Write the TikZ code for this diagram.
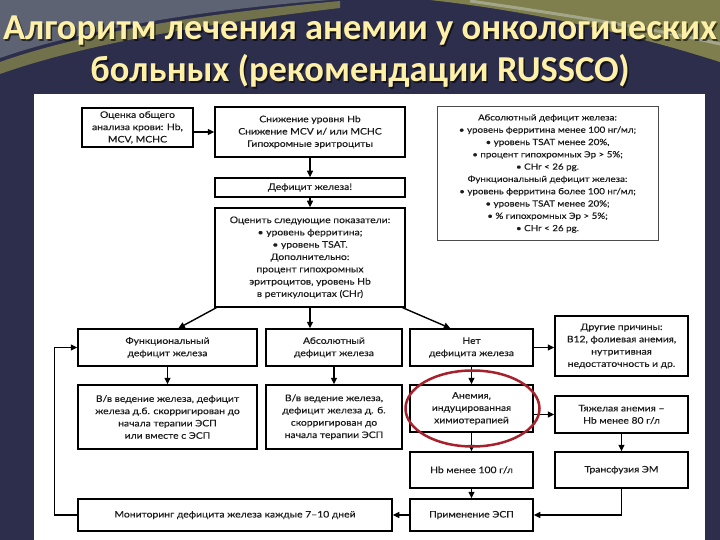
\documentclass[tikz,border=0pt]{standalone}
\usepackage{fontspec}
\setmainfont[FakeStretch=1.15,FakeBold=0.25]{Lato}
\newfontfamily\titlefont{Carlito}
\usetikzlibrary{arrows.meta,calc,shapes.geometric}
\definecolor{bgnavy}{HTML}{2D2E4C}
\definecolor{swgray}{HTML}{5D6372}
\definecolor{swolive}{HTML}{7E7F4C}
\definecolor{swlight}{HTML}{A3A68A}
\definecolor{titlecol}{HTML}{FFF0A8}
\definecolor{ringred}{HTML}{A5222C}
\definecolor{inkc}{HTML}{1C1C1C}
\newcommand\bx[7][]{\node[box,#1,minimum width={(#5-#3)*1pt},minimum height={(#6-#4)*1pt}] (#2) at ({(#3+#5)/2},{(#4+#6)/2}) {#7};}
\tikzset{
 box/.style={draw=black,line width=1.5pt,fill=white,inner sep=1pt,align=center,text=inkc,font=\fontsize{9}{12.3}\selectfont},
 infobox/.style={draw=black!70,line width=1pt,font=\fontsize{8.5}{12.3}\selectfont},
 arr/.style={draw=black,line width=1.4pt,-{Triangle[length=6.5pt,width=6pt]}},
 ttl/.style={font=\titlefont\bfseries\fontsize{36.5}{40}\selectfont,text=titlecol,inner sep=0pt},
 ttlsh/.style={font=\titlefont\bfseries\fontsize{36.5}{40}\selectfont,text=black,inner sep=0pt,opacity=.6},
}
\begin{document}
\begin{tikzpicture}[x=1pt,y=-1pt]
\useasboundingbox (0,0) rectangle (720,540);
% background
\fill[bgnavy] (0,0) rectangle (720,540);
\fill[swgray] (0,0) -- (330,0) .. controls (200,10) and (80,30) .. (0,58) -- cycle;
\fill[swolive,opacity=.85] (0,62) .. controls (90,30) and (220,12) .. (340,1) -- (340,8) .. controls (220,22) and (90,42) .. (0,74) -- cycle;
\fill[swolive] (430,0) .. controls (520,10) and (620,30) .. (720,62) -- (720,0) -- cycle;
\draw[swlight,line width=3pt] (470,1) .. controls (560,14) and (650,28) .. (720,44);
% title
\node[ttlsh] (t1s) at (361.5,32.5) {Алгоритм лечения анемии у онкологических};
\node[ttlsh] (t2s) at (361.5,72.5) {больных (рекомендации RUSSCO)};
\node[ttl] (t1) at (360,31) {Алгоритм лечения анемии у онкологических};
\node[ttl] (t2) at (360,71) {больных (рекомендации RUSSCO)};
% white panel
\fill[white] (34,94) rectangle (705,540);
% boxes
\bx{A}{82}{108}{193}{147}{Оценка общего\\анализа крови: Hb,\\MCV, MCHC}
\bx{B}{215}{107}{405}{157}{Снижение уровня Hb\\Снижение MCV и/ или MCHC\\Гипохромные эритроциты}
\bx[infobox]{info}{437}{107}{658}{240}{Абсолютный дефицит железа:\\• уровень ферритина менее 100 нг/мл;\\• уровень TSAT менее 20\%,\\• процент гипохромных Эр > 5\%;\\• CHr < 26 pg.\\Функциональный дефицит железа:\\• уровень ферритина более 100 нг/мл;\\• уровень TSAT менее 20\%;\\• \% гипохромных Эр > 5\%;\\• CHr < 26 pg.}
\bx{def}{215}{178}{405}{197}{Дефицит железа!}
\bx{eval}{215}{208}{405}{307}{Оценить следующие показатели:\\• уровень ферритина;\\• уровень TSAT.\\Дополнительно:\\процент гипохромных\\эритроцитов, уровень Hb\\в ретикулоцитах (CHr)}
\bx{func}{78}{329}{257}{366}{Функциональный\\дефицит железа}
\bx{abs}{266}{329}{402}{366}{Абсолютный\\дефицит железа}
\bx{net}{410}{329}{533}{366}{Нет\\дефицита железа}
\bx{other}{555}{316}{688}{376}{Другие причины:\\B12, фолиевая анемия,\\нутритивная\\недостаточность и др.}
\bx{ivf}{78}{385}{257}{449}{В/в ведение железа, дефицит\\железа д.б. скорригирован до\\начала терапии ЭСП\\или вместе с ЭСП}
\bx{iva}{266}{385}{402}{449}{В/в ведение железа,\\дефицит железа д. б.\\скорригирован до\\начала терапии ЭСП}
\bx{anem}{410}{385}{533}{432}{Анемия,\\индуцированная\\химиотерапией}
\bx{severe}{555}{396}{688}{433}{Тяжелая анемия –\\Hb менее 80 г/л}
\bx{hb}{410}{452}{533}{488}{Hb менее 100 г/л}
\bx{transf}{555}{452}{688}{488}{Трансфузия ЭМ}
\bx{mon}{78}{499}{392}{531}{Мониторинг дефицита железа каждые 7–10 дней}
\bx{esp}{410}{499}{533}{531}{Применение ЭСП}
% connectors
\draw[arr] (A.east |- B.west) -- (B.west);
\draw[arr] (B) -- (def);
\draw[arr] (def) -- (eval);
\draw[arr] ([xshift=2pt]eval.south west) -- ($(func.north west)!0.56!(func.north east)$);
\draw[arr] (eval.south) -- (eval.south |- abs.north);
\draw[arr] ([xshift=-3pt]eval.south east) -- ($(net.north west)!0.33!(net.north east)$);
\draw[arr] (net.east) -- (net.east -| other.west);
\draw[arr] (func) -- (ivf);
\draw[arr] (abs) -- (iva);
\draw[arr] (net) -- (anem);
\draw[arr] (anem.east |- severe.west) -- (severe.west);
\draw[arr] (anem) -- (hb);
\draw[arr] (severe) -- (transf);
\draw[arr] (hb) -- (esp);
\draw[arr] (transf.south) |- (esp.east);
\draw[arr] (esp) -- (mon);
\draw[arr] (mon.west) -- ++(-23,0) |- (func.west);
% red ring
\node[draw=ringred,line width=2.5pt,ellipse,minimum width=134pt,minimum height=76pt,inner sep=0pt] (ring) at ([xshift=1pt]anem.center) {};
\end{tikzpicture}
\end{document}
